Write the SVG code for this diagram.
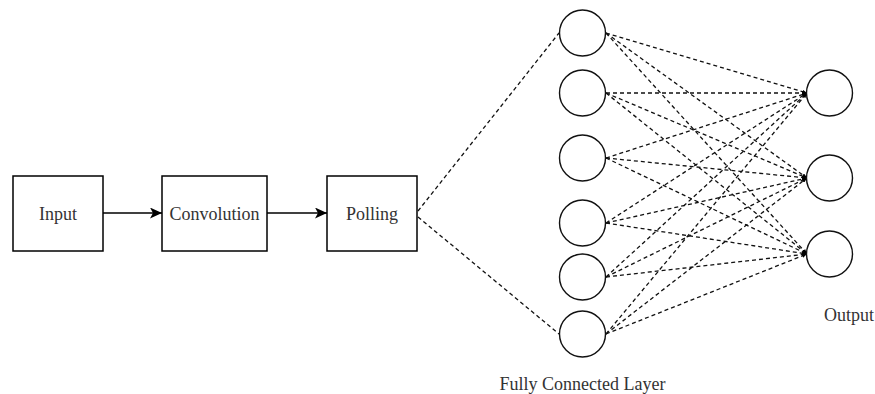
<svg xmlns="http://www.w3.org/2000/svg" width="875" height="394" viewBox="0 0 875 394">
<style>
.box{fill:#fff;stroke:#000;stroke-width:1.5}
.node{fill:#fff;stroke:#111;stroke-width:1.4}
.lbl{font-family:"Liberation Serif","Times New Roman",serif;font-size:18px;fill:#333}
.dash{fill:none;stroke:#111;stroke-width:1.3;stroke-dasharray:4 3}
.solid{fill:none;stroke:#000;stroke-width:1.5}
</style>
<defs>
<marker id="arr" markerWidth="12" markerHeight="11" refX="12" refY="5.5" orient="auto" markerUnits="userSpaceOnUse">
<path d="M0,0 L12,5.5 L0,11 L3,5.5 z" fill="#000"/>
</marker>
<marker id="tip" markerWidth="5" markerHeight="4" refX="5" refY="2" orient="auto" markerUnits="userSpaceOnUse">
<path d="M0,0 L5,2 L0,4 z" fill="#000"/>
</marker>
</defs>
<g id="connectors">
<line class="solid" x1="103" y1="213" x2="162" y2="213" marker-end="url(#arr)"/>
<line class="solid" x1="267" y1="213" x2="327" y2="213" marker-end="url(#arr)"/>
<line class="dash" x1="418" y1="211" x2="559" y2="33"/>
<line class="dash" x1="418" y1="217" x2="559" y2="334"/>
<g marker-end="url(#tip)">
<line class="dash" x1="606" y1="33" x2="807" y2="93"/>
<line class="dash" x1="606" y1="33" x2="807" y2="178"/>
<line class="dash" x1="606" y1="33" x2="807" y2="254"/>
<line class="dash" x1="606" y1="93" x2="807" y2="93"/>
<line class="dash" x1="606" y1="93" x2="807" y2="178"/>
<line class="dash" x1="606" y1="93" x2="807" y2="254"/>
<line class="dash" x1="606" y1="158" x2="807" y2="93"/>
<line class="dash" x1="606" y1="158" x2="807" y2="178"/>
<line class="dash" x1="606" y1="158" x2="807" y2="254"/>
<line class="dash" x1="606" y1="223" x2="807" y2="93"/>
<line class="dash" x1="606" y1="223" x2="807" y2="178"/>
<line class="dash" x1="606" y1="223" x2="807" y2="254"/>
<line class="dash" x1="606" y1="277" x2="807" y2="93"/>
<line class="dash" x1="606" y1="277" x2="807" y2="178"/>
<line class="dash" x1="606" y1="277" x2="807" y2="254"/>
<line class="dash" x1="606" y1="334" x2="807" y2="93"/>
<line class="dash" x1="606" y1="334" x2="807" y2="178"/>
<line class="dash" x1="606" y1="334" x2="807" y2="254"/>
</g>
</g>
<g id="input"><rect class="box" x="13" y="176" width="90" height="75"/><text class="lbl" x="58" y="220" text-anchor="middle">Input</text></g>
<g id="convolution"><rect class="box" x="162" y="176" width="105" height="75"/><text class="lbl" x="214.5" y="220" text-anchor="middle">Convolution</text></g>
<g id="polling"><rect class="box" x="327" y="176" width="90" height="75"/><text class="lbl" x="372" y="220" text-anchor="middle">Polling</text></g>
<g id="fc1"><circle class="node" cx="582.5" cy="33" r="23"/></g>
<g id="fc2"><circle class="node" cx="582.5" cy="93" r="23"/></g>
<g id="fc3"><circle class="node" cx="582.5" cy="158" r="23"/></g>
<g id="fc4"><circle class="node" cx="582.5" cy="223" r="23"/></g>
<g id="fc5"><circle class="node" cx="582.5" cy="277" r="23"/></g>
<g id="fc6"><circle class="node" cx="582.5" cy="334" r="23"/></g>
<g id="out1"><circle class="node" cx="829.5" cy="93" r="23"/></g>
<g id="out2"><circle class="node" cx="829.5" cy="178" r="23"/></g>
<g id="out3"><circle class="node" cx="829.5" cy="254" r="23"/></g>
<g id="label-output"><text class="lbl" x="849" y="321" text-anchor="middle">Output</text></g>
<g id="label-fc"><text class="lbl" x="582.5" y="390" text-anchor="middle">Fully Connected Layer</text></g>
</svg>
